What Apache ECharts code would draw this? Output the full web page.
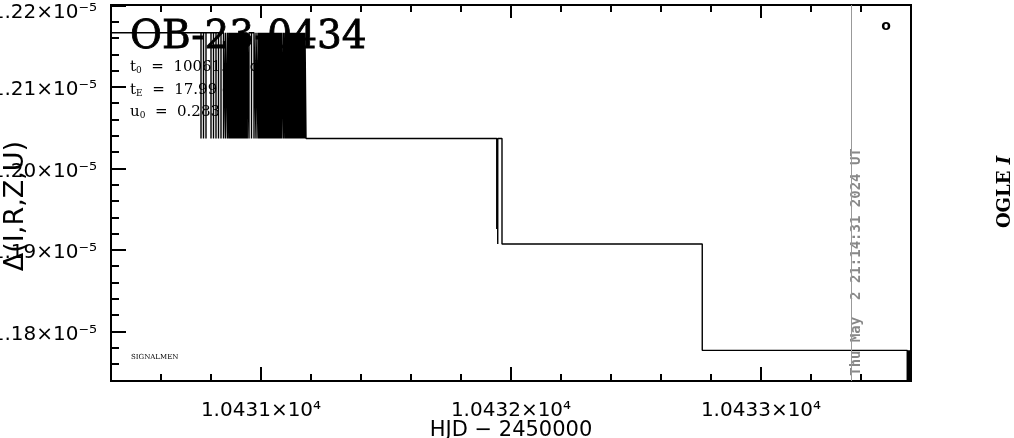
<!DOCTYPE html>
<html><head><meta charset="utf-8">
<script src="https://cdn.jsdelivr.net/npm/echarts@6/dist/echarts.min.js"></script>
<style>html,body{margin:0;padding:0;background:#fff}#c{width:1014px;height:438px}</style>
</head><body><div id="c"></div>
<script>
// ---- data (HJD - 2450000, flux) ----
const levelTimes = [10430.400, 10431.180, 10431.964, 10432.765];
const levelFlux  = [1.216646e-5, 1.203677e-5, 1.190720e-5, 1.177677e-5];
// brief dips down to the second level during the first segment
const dipTimesA = [10430.760, 10430.770, 10430.780, 10430.800, 10430.810, 10430.820, 10430.830,
  10430.840, 10430.850, 10430.858, 10430.866, 10430.872,
  10430.876, 10430.879, 10430.883, 10430.886, 10430.890, 10430.893, 10430.897, 10430.900, 10430.904,
  10430.907, 10430.911, 10430.914, 10430.918, 10430.921, 10430.925, 10430.928, 10430.932, 10430.935,
  10430.939, 10430.942, 10430.945,
  10430.952, 10430.962, 10430.972, 10430.980, 10430.988,
  10430.992, 10430.995, 10430.999, 10431.002, 10431.006, 10431.009, 10431.013, 10431.016, 10431.020,
  10431.023, 10431.027, 10431.030, 10431.034, 10431.037, 10431.041, 10431.044, 10431.048, 10431.051,
  10431.055, 10431.058, 10431.062, 10431.065, 10431.069, 10431.072, 10431.076, 10431.079, 10431.083,
  10431.090,
  10431.096, 10431.099, 10431.103, 10431.106, 10431.110, 10431.113, 10431.117, 10431.120, 10431.124,
  10431.127, 10431.131, 10431.134, 10431.138, 10431.141, 10431.145, 10431.148, 10431.152, 10431.155,
  10431.159, 10431.162, 10431.166, 10431.169, 10431.173, 10431.176];
const dipFluxA = 1.203677e-5;
// dips just before the second drop
const dipTimesB = [10431.943, 10431.945, 10431.947];
const dipFluxB  = [1.19258e-5, 1.19258e-5, 1.19072e-5];
// dips at the right end (below the axis range)
const dipTimesC = [10433.585, 10433.587, 10433.589, 10433.591, 10433.593, 10433.595, 10433.597, 10433.599];
const dipFluxC = 1.1700e-5;
const endTime = 10433.600;

// ---- axes ----
const xRange = [10430.4, 10433.6];
const yRange = [1.173913e-5, 1.2200571e-5];
const xMajor = [10431, 10432, 10433];
const xMinor = [10430.6, 10430.8, 10431.2, 10431.4, 10431.6, 10431.8, 10432.2, 10432.4, 10432.6, 10432.8, 10433.2, 10433.4];
const yMajor = [1.18e-5, 1.19e-5, 1.20e-5, 1.21e-5, 1.22e-5];
const yMinor = [1.174e-5, 1.176e-5, 1.178e-5, 1.182e-5, 1.184e-5, 1.186e-5, 1.188e-5,
  1.192e-5, 1.194e-5, 1.196e-5, 1.198e-5, 1.202e-5, 1.204e-5, 1.206e-5, 1.208e-5,
  1.212e-5, 1.214e-5, 1.216e-5, 1.218e-5];
const dateLineTime = 10433.359;

// ---- build step line ----
const marks = [];
levelTimes.forEach((t, i) => marks.push({t, lvl: true, f: levelFlux[i]}));
dipTimesA.forEach(t => marks.push({t, lvl: false, f: dipFluxA}));
dipTimesB.forEach((t, i) => marks.push({t, lvl: false, f: dipFluxB[i]}));
dipTimesC.forEach(t => marks.push({t, lvl: false, f: dipFluxC}));
marks.sort((a, b) => a.t - b.t);
const pts = [];
let cur = levelFlux[0];
marks.forEach(m => {
  if (m.lvl) { pts.push([m.t, m.f]); cur = m.f; }
  else { pts.push([m.t, m.f]); pts.push([m.t, cur]); }
});
pts.push([endTime, cur]);

const chart = echarts.init(document.getElementById('c'), null, {renderer: 'canvas'});
const F = '"DejaVu Sans"';
const S = '"DejaVu Serif"';
function xAx(pos, vals, len, labels) {
  return {
    type: 'value', position: pos, min: xRange[0], max: xRange[1],
    axisLine: {show: false, onZero: false},
    splitLine: {show: false},
    axisTick: {show: true, inside: true, length: len, customValues: vals, lineStyle: {color: '#000', width: 2}},
    axisLabel: labels ? {show: true, customValues: vals, margin: 20, color: '#000', fontFamily: F, fontSize: 20,
      formatter: v => (v / 1e4).toFixed(4) + '×10⁴'} : {show: false},
    name: labels ? 'HJD − 2450000' : '', nameLocation: 'middle', nameGap: 39, nameMoveOverlap: false,
    nameTextStyle: {color: '#000', fontFamily: F, fontSize: 21}
  };
}
function yAx(vals, len, labels) {
  return {
    type: 'value', position: 'left', min: yRange[0], max: yRange[1],
    axisLine: {show: false, onZero: false},
    splitLine: {show: false},
    axisTick: {show: true, inside: true, length: len, customValues: vals, lineStyle: {color: '#000', width: 2}},
    axisLabel: labels ? {show: true, customValues: vals, margin: 14, color: '#000', fontFamily: F, fontSize: 20,
      verticalAlign: 'top', lineHeight: 6,
      formatter: v => (v > yMajor[yMajor.length - 1] * 0.9999 ? '{e|' : '{n|') + (v * 1e5).toFixed(2) + '×10⁻⁵}',
      rich: {n: {fontFamily: F, fontSize: 20, lineHeight: 6, color: '#000'},
             e: {fontFamily: F, fontSize: 20, lineHeight: 6, color: '#000', padding: [9, 0, 0, 0]}}} : {show: false},
    name: labels ? 'Δ(I,R,Z,U)' : '', nameLocation: 'middle', nameGap: 82, nameMoveOverlap: false,
    nameTextStyle: {color: '#000', fontFamily: F, fontSize: 27, padding: [0, 26, 0, 0]}
  };
}
const sub = {font: '9px ' + S, fill: '#000', verticalAlign: 'bottom', padding: [8, 0, 0, 0]};
const main = {font: '15px ' + S, fill: '#000'};
const option = {
  animation: false,
  backgroundColor: '#fff',
  grid: {left: 111, top: 5, width: 800, height: 376, containLabel: false, outerBoundsMode: 'none',
    show: true, borderColor: '#000', borderWidth: 2, backgroundColor: 'transparent'},
  xAxis: [xAx('bottom', xMajor, 14, true), xAx('bottom', xMinor, 7, false), xAx('top', xMajor, 13, false), xAx('top', xMinor, 7, false)],
  yAxis: [yAx(yMajor, 15, true), yAx(yMinor, 8, false)],
  graphic: [
    {type: 'text', x: 130, y: 38, z: 0, style: {text: 'OB-23-0434', font: '39px ' + S, fill: '#000', stroke: '#000', lineWidth: 0.8, verticalAlign: 'middle'}},
    {type: 'text', x: 130, y: 67, z: 0, style: {text: '{m|t}{s|0}{m|  =  10061.48 d}', verticalAlign: 'middle', rich: {m: main, s: sub}}},
    {type: 'text', x: 130, y: 90, z: 0, style: {text: '{m|t}{s|E}{m|  =  17.99 d}', verticalAlign: 'middle', rich: {m: main, s: sub}}},
    {type: 'text', x: 130, y: 112, z: 0, style: {text: '{m|u}{s|0}{m|  =  0.283}', verticalAlign: 'middle', rich: {m: main, s: sub}}},
    {type: 'text', x: 131, y: 357, z: 0, style: {text: 'SIGNALMEN', font: '7px ' + S, fill: '#000', verticalAlign: 'middle'}},
    {type: 'text', x: 886, y: 26, z: 5, style: {text: 'o', font: 'bold 14px ' + F, fill: '#000', align: 'center', verticalAlign: 'middle'}},
    {type: 'text', x: 856, y: 262, rotation: Math.PI / 2, z: 5, style: {text: 'Thu May  2 21:14:31 2024 UT', font: 'bold 14px "DejaVu Sans Mono"', fill: '#888', align: 'center', verticalAlign: 'middle'}},
    {type: 'text', x: 1005, y: 192, rotation: Math.PI / 2, z: 5, style: {text: '{b|OGLE }{i|I}', align: 'center', verticalAlign: 'middle',
      rich: {b: {font: 'bold 18px ' + S, fill: '#000'}, i: {font: 'italic bold 18px ' + S, fill: '#000'}}}}
  ],
  series: [{
    type: 'line', xAxisIndex: 0, yAxisIndex: 0, data: pts, step: 'end', showSymbol: false, symbol: 'none',
    clip: true, lineStyle: {color: '#000', width: 1.4}, z: 3,
    markLine: {silent: true, symbol: 'none', label: {show: false}, lineStyle: {color: '#999', width: 1, type: 'solid'},
      data: [{xAxis: dateLineTime}]}
  }]
};
chart.setOption(option);
</script></body></html>
